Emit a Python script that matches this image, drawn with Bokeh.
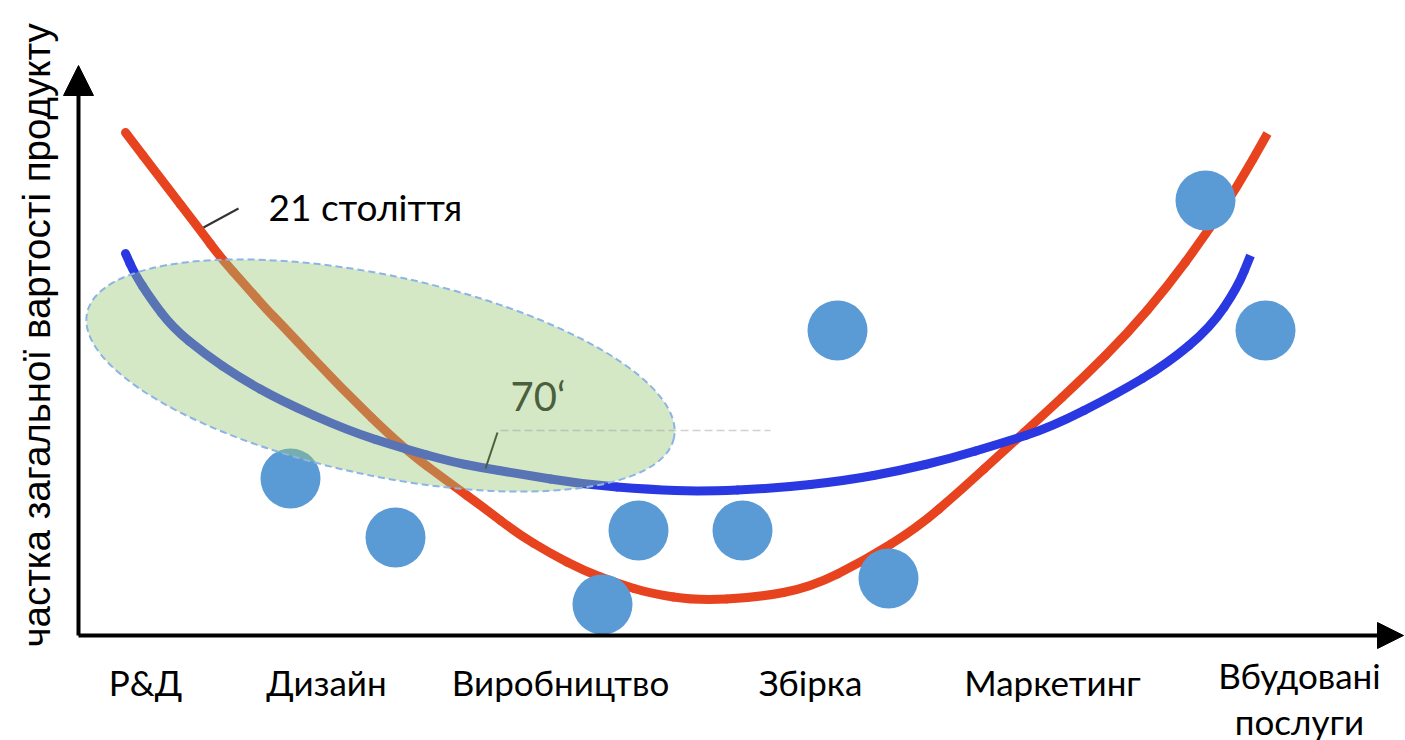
import math
from bokeh.plotting import figure
from bokeh.models import Range1d, Arrow, NormalHead
from bokeh.core.properties import value
from bokeh.embed import file_html
from bokeh.resources import INLINE

# ---- data (x: position along the value chain, y: share of total product value) ----
stages = ["Р&Д", "Дизайн", "Виробництво", "Збірка", "Маркетинг", "Вбудовані\nпослуги"]
stage_x = [67, 248, 482, 732, 974, 1221]

# "21 століття" curve
red_x = [47, 82, 122, 142, 167, 189, 202, 262, 325, 372, 405, 439, 472, 505, 539, 572,
         618, 678, 732, 786, 839, 882, 929, 962, 1005, 1049, 1089, 1125, 1159, 1189]
red_y = [503, 457, 405, 378, 350, 325, 312, 248, 187, 152, 128, 102, 82, 65, 52, 42,
         35, 38, 48, 75, 108, 145, 188, 218, 258, 302, 349, 398, 449, 502]

# "70'" curve
blue_x = [47, 56, 72, 94, 127, 161, 202, 269, 325, 372, 402, 439, 505, 572, 622, 696,
          768, 822, 872, 922, 972, 1039, 1089, 1132, 1159, 1172]
blue_y = [382, 362, 337, 308, 281, 258, 235, 205, 187, 174, 168, 162, 151, 146, 144, 147,
          155, 165, 177, 192, 208, 242, 272, 308, 348, 380]

# activity dots
dot_x = [1127, 759, 1187, 212, 317, 560, 664, 810, 524]
dot_y = [435, 305, 305, 157, 98, 105, 105, 57, 31]

# highlighted 1970s region
region_x, region_y, region_w, region_h, region_angle = 302, 260, 600, 200, -0.21

y_title = "частка загальної вартості продукту"
label_red = "21 століття"
label_blue = "70‘"

FONT = "Lato"

p = figure(width=1405, height=740, x_range=Range1d(-78, 1327), y_range=Range1d(-105, 635),
           x_axis_type=None, y_axis_type=None, toolbar_location=None,
           output_backend="svg", min_border=0, outline_line_color=None,
           background_fill_color="white", border_fill_color="white")
p.grid.visible = False


def smooth_curve(xs, ys, color):
    """Draw a smooth curve through the read points with Bokeh's quadratic glyph."""
    mx = [(xs[i] + xs[i + 1]) / 2 for i in range(len(xs) - 1)]
    my = [(ys[i] + ys[i + 1]) / 2 for i in range(len(ys) - 1)]
    x0 = [xs[0]] + mx[:-1]
    x1 = [mx[0]] + mx[1:]
    y0 = [ys[0]] + my[:-1]
    y1 = [my[0]] + my[1:]
    cx = [xs[0]] + xs[1:-1]
    cy = [ys[0]] + ys[1:-1]
    p.quadratic(x0=x0, y0=y0, x1=x1, y1=y1, cx=cx, cy=cy,
                line_color=color, line_width=9, line_cap="round")
    p.line([mx[-1], xs[-1]], [my[-1], ys[-1]], line_color=color, line_width=9)


# curves
smooth_curve(red_x, red_y, "#E8431F")
smooth_curve(blue_x, blue_y, "#2A38E2")

# dots
p.scatter(dot_x, dot_y, size=60, fill_color="#5B9BD5", line_color=None)

# translucent ellipse
p.ellipse(x=[region_x], y=[region_y], width=[region_w], height=[region_h], angle=[region_angle],
          fill_color="#9BC877", fill_alpha=0.42, line_color="#8CB4E6", line_width=2,
          line_dash="7 4")

# faint guide line
p.line([422, 692], [205, 205], line_color="#9A9A9A", line_alpha=0.45, line_width=1.5,
       line_dash="8 4")

# callouts
p.line([125, 160], [408, 427], line_color="#333333", line_width=2)
p.text([190], [429], text=[label_red], text_font=value(FONT), text_font_size="37px",
       text_color="black", text_align="left", text_baseline="alphabetic")
p.line([407, 419], [167, 203], line_color="#4B5F3C", line_width=2)
p.text([432], [240], text=[label_blue], text_font=value(FONT), text_font_size="40px",
       text_color="#4B5F3C", text_align="left", text_baseline="alphabetic")

# axes with arrows
p.add_layout(Arrow(end=NormalHead(size=30, fill_color="black", line_color="black"),
                   x_start=0, y_start=0, x_end=0, y_end=570, line_width=4, line_color="black"))
p.add_layout(Arrow(end=NormalHead(size=26, fill_color="black", line_color="black"),
                   x_start=0, y_start=0, x_end=1325, y_end=0, line_width=4, line_color="black"))

# category labels
first_x, first_y, first_t, second_x, second_y, second_t = [], [], [], [], [], []
for sx, s in zip(stage_x, stages):
    parts = s.split("\n")
    if len(parts) == 1:
        first_x.append(sx); first_y.append(-46); first_t.append(parts[0])
    else:
        first_x.append(sx); first_y.append(-39); first_t.append(parts[0])
        second_x.append(sx); second_y.append(-85); second_t.append(parts[1])
p.text(first_x, first_y, text=first_t, text_font=value(FONT), text_font_size="35px",
       text_color="black", text_align="center", text_baseline="alphabetic")
p.text(second_x, second_y, text=second_t, text_font=value(FONT), text_font_size="35px",
       text_color="black", text_align="center", text_baseline="alphabetic")

# y title
p.text([-42], [-12], text=[y_title], angle=math.pi / 2, text_font=value("Liberation Sans"),
       text_font_size="38.5px", text_color="black", text_align="left", text_baseline="middle")

open("out.html", "w").write(file_html(p, INLINE))
